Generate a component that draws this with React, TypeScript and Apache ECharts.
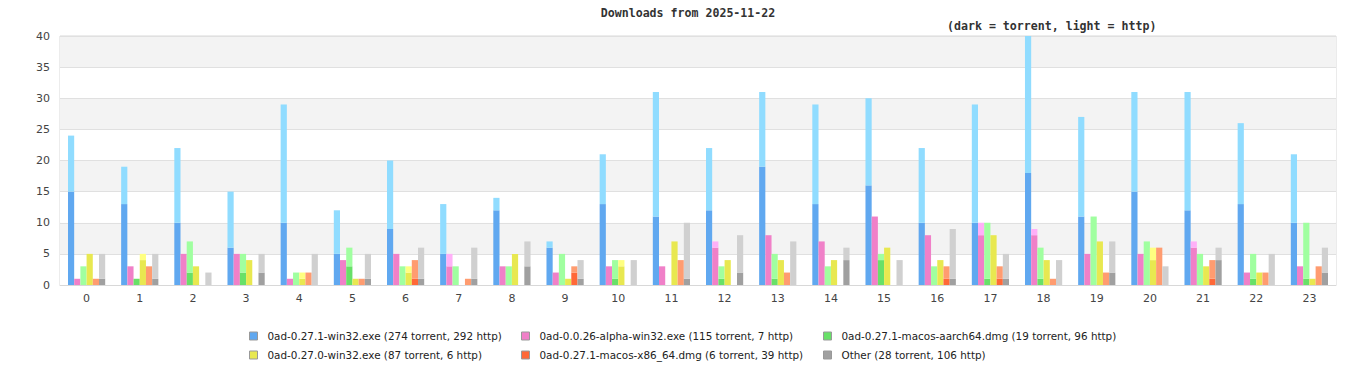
import React, { useEffect, useRef } from "react";
import * as echarts from "echarts";

const hours = ["0","1","2","3","4","5","6","7","8","9","10","11","12","13","14","15","16","17","18","19","20","21","22","23"];

const fileNames = [
  "0ad-0.27.1-win32.exe (274 torrent, 292 http)",
  "0ad-0.0.26-alpha-win32.exe (115 torrent, 7 http)",
  "0ad-0.27.1-macos-aarch64.dmg (19 torrent, 96 http)",
  "0ad-0.27.0-win32.exe (87 torrent, 6 http)",
  "0ad-0.27.1-macos-x86_64.dmg (6 torrent, 39 http)",
  "Other (28 torrent, 106 http)",
];

const win32Torrent = [15,13,10,6,10,5,9,5,12,6,13,11,12,19,13,16,10,10,18,11,15,12,13,10];
const win32Http = [9,6,12,9,19,7,11,8,2,1,8,20,10,12,16,14,12,19,22,16,16,19,13,11];
const alphaTorrent = [1,3,5,5,1,4,5,3,3,2,3,3,6,8,7,11,8,8,8,5,5,6,2,3];
const alphaHttp = [0,0,0,0,0,0,0,2,0,0,0,0,1,0,0,0,0,2,1,0,0,1,0,0];
const aarchTorrent = [0,1,2,2,0,3,0,0,0,0,1,0,1,1,0,4,0,1,1,0,0,0,1,1];
const aarchHttp = [3,0,5,3,2,3,3,3,3,5,3,0,2,4,3,1,3,9,5,11,7,5,4,9];
const w270Torrent = [5,4,3,4,1,1,2,0,5,1,3,7,4,4,4,6,4,8,4,7,4,3,2,1];
const w270Http = [0,1,0,0,1,0,1,0,0,0,1,0,0,0,0,0,0,0,0,0,2,0,0,0];
const x86Torrent = [0,0,0,0,0,0,1,0,0,2,0,0,0,0,0,0,1,1,0,0,0,1,0,0];
const x86Http = [1,3,0,0,2,1,3,1,0,1,0,4,0,2,0,0,2,2,1,2,6,3,2,3];
const otherTorrent = [1,1,0,2,0,1,1,1,3,1,0,1,2,0,4,0,1,1,0,2,0,4,0,2];
const otherHttp = [4,4,2,3,5,4,5,5,4,3,4,9,6,7,2,4,8,4,4,5,3,2,5,4];

const yTicks = [0, 5, 10, 15, 20, 25, 30, 35, 40];

const torrentData = [win32Torrent, alphaTorrent, aarchTorrent, w270Torrent, x86Torrent, otherTorrent];
const httpData = [win32Http, alphaHttp, aarchHttp, w270Http, x86Http, otherHttp];

const darkColors = ["#60a8f0", "#f080c8", "#68e068", "#e8e850", "#ff6838", "#a0a0a0"];
const lightColors = ["#90dcff", "#ffb0f8", "#a0ffa0", "#ffff80", "#ff9c70", "#d0d0d0"];

const legendPos = [
  [249, 331], [521, 331], [823, 331],
  [249, 350], [521, 350], [823, 350],
];

export default function App() {
  const ref = useRef<HTMLDivElement>(null);
  useEffect(() => {
    document.body.style.margin = "0";
    const chart = echarts.init(ref.current!, null, { renderer: "svg" });
    const series: any[] = [];
    fileNames.forEach((name, i) => {
      series.push({
        name,
        type: "bar",
        stack: "s" + i,
        data: torrentData[i],
        itemStyle: { color: darkColors[i] },
        barGap: "0%",
        barCategoryGap: "30%",
      });
      series.push({
        name: name + " http",
        type: "bar",
        stack: "s" + i,
        data: httpData[i],
        itemStyle: { color: lightColors[i] },
        barGap: "0%",
        barCategoryGap: "30%",
      });
    });
    const legends = fileNames.map((name, i) => ({
      data: [name],
      left: legendPos[i][0],
      top: legendPos[i][1],
      icon: "rect",
      itemWidth: 8,
      itemHeight: 8,
      itemStyle: { borderColor: "#999", borderWidth: 1 },
      selectedMode: false,
      padding: 0,
      textStyle: {
        fontFamily: "DejaVu Sans",
        fontSize: 10.4,
        color: "#222",
        padding: [0, 0, 0, 5],
      },
    }));
    chart.setOption({
      animation: false,
      backgroundColor: "#ffffff",
      title: [
        {
          text: "Downloads from 2025-11-22",
          left: 683,
          top: 2,
          textAlign: "center",
          textStyle: { fontFamily: "DejaVu Sans Mono", fontWeight: "bold", fontSize: 11.6, color: "#333" },
        },
        {
          text: "(dark = torrent, light = http)",
          left: 942,
          top: 15,
          textStyle: { fontFamily: "DejaVu Sans Mono", fontWeight: "bold", fontSize: 11.6, color: "#333" },
        },
      ],
      legend: legends,
      grid: {
        left: 60,
        right: 30,
        top: 36,
        bottom: 95,
        show: true,
        borderColor: "#d8d8d8",
        borderWidth: 1,
      },
      xAxis: {
        type: "category",
        data: hours,
        axisTick: { show: false },
        axisLine: { lineStyle: { color: "#d8d8d8" } },
        axisLabel: { fontFamily: "DejaVu Sans", fontSize: 11, color: "#444", margin: 8 },
      },
      yAxis: {
        type: "value",
        min: yTicks[0],
        max: yTicks[yTicks.length - 1],
        interval: 5,
        axisLine: { show: false },
        axisTick: { show: false },
        axisLabel: { fontFamily: "DejaVu Sans", fontSize: 11, color: "#444", margin: 10 },
        splitLine: { lineStyle: { color: "#e0e0e0" } },
        splitArea: { show: true, areaStyle: { color: ["#ffffff", "#f3f3f3"] } },
      },
      series,
    });
    return () => chart.dispose();
  }, []);
  return <div ref={ref} style={{ position: "absolute", left: 0, top: 0, width: 1366, height: 380 }} />;
}
